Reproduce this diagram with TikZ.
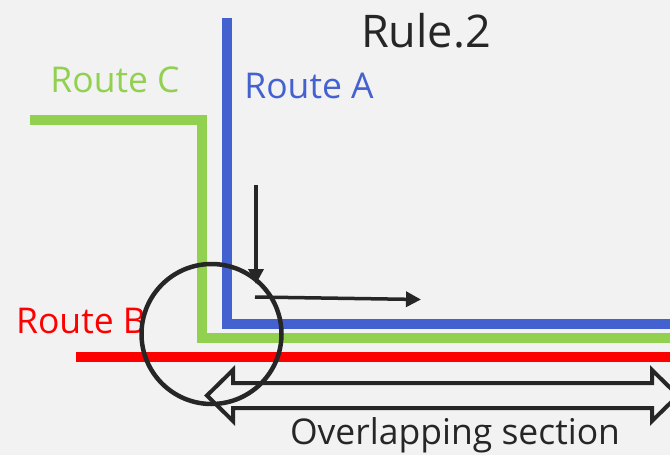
\documentclass[tikz,border=0pt]{standalone}
\usepackage{fontspec}
\setmainfont{Open Sans}
\usetikzlibrary{arrows.meta}
\definecolor{bg}{RGB}{242,242,242}
\definecolor{routeblue}{RGB}{68,97,208}
\definecolor{routegreen}{RGB}{146,208,80}
\definecolor{routered}{RGB}{255,0,0}
\definecolor{ink}{RGB}{38,38,38}
\tikzset{
  route/.style={line width=10pt, line join=miter},
  lbl/.style={inner sep=0pt, font=\fontsize{35.5}{40}\selectfont},
  pointer/.style={ink, line width=3.5pt, -{Triangle[length=15pt,width=15pt]}},
  ring/.style={ink, line width=4.5pt},
  block/.style={ink, line width=4pt, line join=miter, fill=none}
}
\begin{document}
\begin{tikzpicture}[x=1pt,y=-1pt]
\fill[bg] (0,0) rectangle (670,455);
\useasboundingbox (0,0) rectangle (670,455);
\clip (0,0) rectangle (670,455);
% routes
\draw[route, routegreen] (30,120) -- (202,120) -- (202,337.5) -- (680,337.5);
\draw[route, routeblue] (226.5,18) -- (226.5,323.5) -- (680,323.5);
\draw[route, routered] (76,357) -- (680,357);
% labels
\node[lbl, text=ink, font=\fontsize{45}{50}\selectfont] (title) at (426,31) {Rule.2};
\node[lbl, text=routegreen] (rc) at (115,80) {Route C};
\node[lbl, text=routeblue] (ra) at (309,86) {Route A};
\node[lbl, text=routered] (rb) at (81,321) {Route B};
\node[lbl, text=ink] (ov) at (455,435) {Overlapping section};
% circle
\node[ring, draw, circle, minimum size=140pt, inner sep=0pt] (ring) at (211.5,334) {};
% pointers
\coordinate (vs) at (256,185);
\coordinate (ve) at (256,284);
\coordinate (hs) at (255,297);
\coordinate (he) at (421,299.5);
\draw[pointer] (vs) -- (ve);
\draw[pointer] (hs) -- (he);
% double block arrow
\draw[block] (207,395.5) -- (233,370) -- (233,383) -- (652,383) -- (652,370)
  -- (678,395.5) -- (652,421) -- (652,408) -- (233,408) -- (233,421) -- cycle;
\end{tikzpicture}
\end{document}
